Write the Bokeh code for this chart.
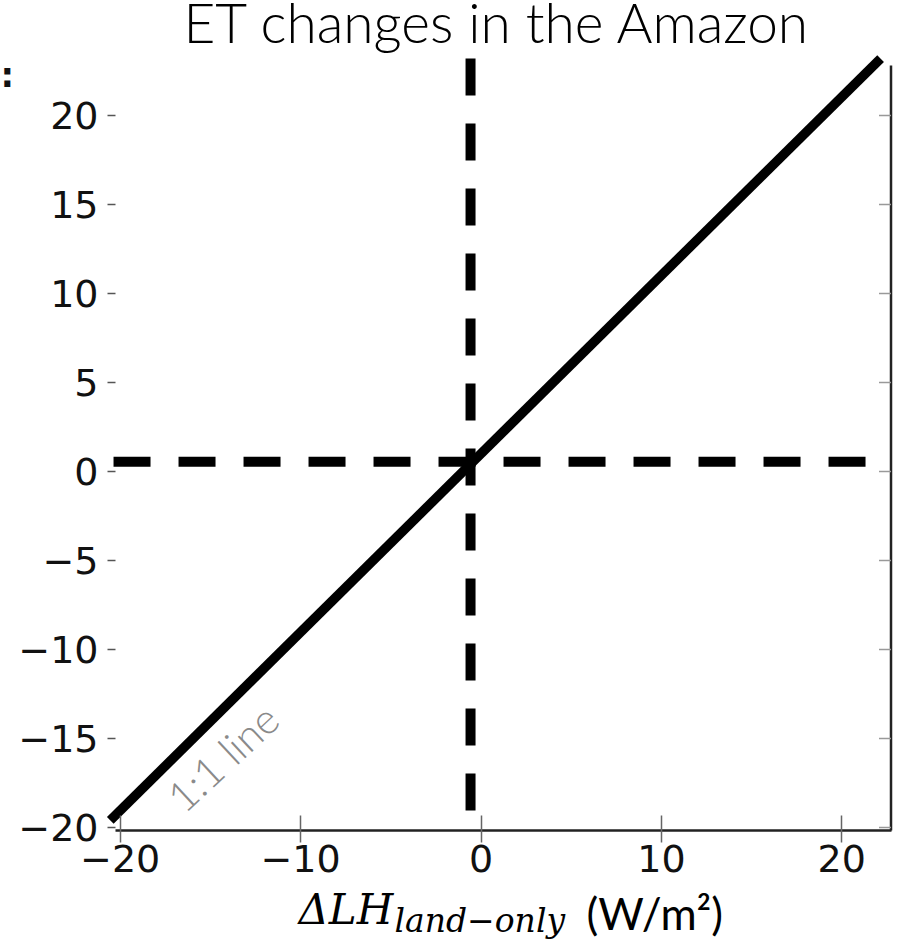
from bokeh.plotting import figure
from bokeh.models import Range1d, FixedTicker, Label, LinearAxis
from bokeh.embed import file_html
from bokeh.resources import INLINE

# ---- data ----
x_ticks = [-20, -10, 0, 10, 20]
y_ticks = [-20, -15, -10, -5, 0, 5, 10, 15, 20]
one_to_one_x = [-20.55, 22.15]
one_to_one_y = [-19.6, 23.2]
ref_x = -0.58          # vertical reference (dashed)
ref_y = 0.55           # horizontal reference (dashed)
vref_span = [23.2, -19.2]
href_span = [-20.37, 21.48]
title_text = "ET changes in the Amazon"
line_label = "1:1 line"

# ---- layout: the frame fills the canvas, axes are pinned inside it ----
W, H = 897, 947
X0_PX, X_SCALE = 480.5, 18.04     # pixel of x=0, pixels per unit
Y0_PX, Y_SCALE = 471.0, 17.8      # pixel of y=0, pixels per unit
X_LO, X_HI = -X0_PX / X_SCALE, (W - X0_PX) / X_SCALE
Y_LO, Y_HI = -(H - Y0_PX) / Y_SCALE, Y0_PX / Y_SCALE


def px_x(px):
    return (px - X0_PX) / X_SCALE


def px_y(py):
    return (Y0_PX - py) / Y_SCALE


AX_LEFT, AX_RIGHT = px_x(115), px_x(890.5)
AX_BOTTOM, AX_TOP = px_y(830), px_y(65)

p = figure(width=W, height=H, frame_width=W, frame_height=H,
           x_range=Range1d(X_LO, X_HI), y_range=Range1d(Y_LO, Y_HI),
           x_axis_location=None, y_axis_location=None,
           output_backend="svg", toolbar_location=None,
           min_border=0)
p.outline_line_color = None
p.grid.visible = False
p.background_fill_color = "white"
p.border_fill_color = "white"

tick_font = "DejaVu Sans"

# x axis: bottom spine with ticks crossing it
xa = LinearAxis(fixed_location=AX_BOTTOM, bounds=(AX_LEFT, AX_RIGHT))
xa.ticker = FixedTicker(ticks=x_ticks)
xa.major_label_overrides = {t: str(t).replace("-", "\u2212") for t in x_ticks}
xa.axis_line_color = "#222222"
xa.axis_line_width = 2.5
xa.major_tick_in = 15
xa.major_tick_out = 12
xa.major_tick_line_color = "#666666"
xa.major_tick_line_width = 1.5
xa.minor_tick_line_color = None
xa.major_label_standoff = 2
xa.major_label_text_font = tick_font
xa.major_label_text_font_size = "38px"
xa.major_label_text_color = "#111111"
p.add_layout(xa, "below")

# y axis: no spine, short outward ticks
ya = LinearAxis(fixed_location=AX_LEFT, bounds=(AX_BOTTOM, AX_TOP))
ya.ticker = FixedTicker(ticks=y_ticks)
ya.major_label_overrides = {t: str(t).replace("-", "\u2212") for t in y_ticks}
ya.axis_line_color = None
ya.major_tick_in = 0
ya.major_tick_out = 8
ya.major_tick_line_color = "#555555"
ya.major_tick_line_width = 1.5
ya.minor_tick_line_color = None
ya.major_label_standoff = 9
ya.major_label_text_font = tick_font
ya.major_label_text_font_size = "38px"
ya.major_label_text_color = "#111111"
p.add_layout(ya, "left")

# right spine with inward ticks
p.segment(x0=[AX_RIGHT], y0=[AX_BOTTOM], x1=[AX_RIGHT], y1=[AX_TOP],
          line_color="#222222", line_width=2.5)
tick_len = 12 / X_SCALE
p.segment(x0=[AX_RIGHT - tick_len] * len(y_ticks), y0=y_ticks,
          x1=[AX_RIGHT] * len(y_ticks), y1=y_ticks,
          line_color="#999999", line_width=1.5)

# dashed reference lines
p.line([ref_x, ref_x], vref_span, line_color="black", line_width=10,
       line_dash="37 28")
p.line(href_span, [ref_y, ref_y], line_color="black", line_width=10,
       line_dash="37 28")

# 1:1 line
p.line(one_to_one_x, one_to_one_y, line_color="black", line_width=9.5)

# label along the 1:1 line
p.add_layout(Label(x=px_x(222), y=px_y(757), text=line_label, angle=43,
                   angle_units="deg", text_align="center",
                   text_baseline="middle", text_font="Lato Light",
                   text_font_size="42px", text_color="#8a8a8a"))

# title
p.add_layout(Label(x=px_x(497), y=px_y(21), text=title_text,
                   text_align="center", text_baseline="alphabetic",
                   text_font="Lato Light", text_font_size="55px",
                   text_color="black"))

# x-axis label: math part + units
p.add_layout(Label(x=px_x(298), y=px_y(909), text="\u0394LH",
                   text_align="left", text_baseline="alphabetic",
                   text_font="DejaVu Serif", text_font_style="italic",
                   text_font_size="42px", text_color="black"))
p.add_layout(Label(x=px_x(394), y=px_y(920), text="land\u2212only",
                   text_align="left", text_baseline="alphabetic",
                   text_font="DejaVu Serif", text_font_style="italic",
                   text_font_size="33px", text_color="black"))
p.add_layout(Label(x=px_x(586), y=px_y(912), text="(W/m\u00b2)",
                   text_align="left", text_baseline="alphabetic",
                   text_font="Lato", text_font_size="44px",
                   text_color="black"))

# fragment at the top-left edge
p.add_layout(Label(x=px_x(0), y=px_y(74), text=":", text_align="left",
                   text_baseline="alphabetic", text_font=tick_font,
                   text_font_style="bold", text_font_size="34px",
                   text_color="#111111"))

open("out.html", "w").write(file_html(p, INLINE))
